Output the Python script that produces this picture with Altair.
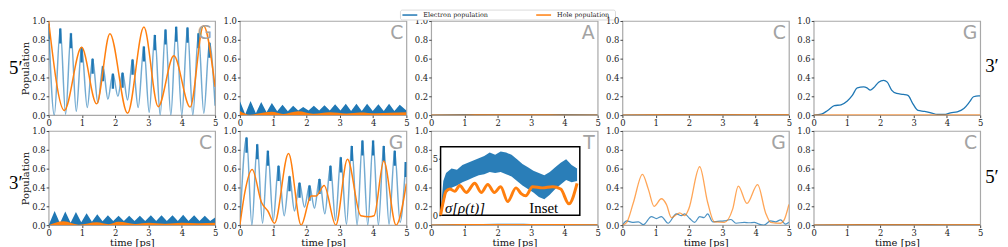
import altair as alt
import pandas as pd

E = "Electron population"
HL = "Hole population"
BLUE, ORANGE = "#1f77b4", "#ff7f0e"

legend_labels = [E, HL]
legend_colors = [BLUE, ORANGE]
letters_top = ["G", "C", "A", "C", "G"]
letters_bottom = ["C", "G", "T", "G", "C"]
left_labels = ["5′", "3′"]
right_labels = ["3′", "5′"]
x_ticks = [0, 1, 2, 3, 4, 5]
y_ticks = [0.0, 0.2, 0.4, 0.6, 0.8, 1.0]
inset_ticks = [0, 5]
inset_t_domain = [0, 5.1]
inset_y_domain = [0, 6]
inset_texts = ["σ[ρ(t)]", "Inset"]
inset_text_t = [0.16, 3.25]
inset_text_v = [0.2, 0.2]

# ---- panel 1 (5', G) ----
p1_blue_t = [0.0, 0.17, 0.35, 0.51, 0.67, 0.83, 0.99, 1.16, 1.32, 1.48, 1.63, 1.78, 1.93, 2.08, 2.22, 2.37,
             2.52, 2.69, 2.86, 3.02, 3.19, 3.35, 3.51, 3.67, 3.83, 4.0, 4.17, 4.33, 4.5, 4.66, 4.83, 5.0]
p1_blue_v = [0.97, 0.0, 0.92, 0.01, 0.87, 0.04, 0.72, 0.08, 0.60, 0.13, 0.52, 0.17, 0.44, 0.20, 0.45, 0.16,
             0.59, 0.08, 0.73, 0.03, 0.85, 0.0, 0.91, 0.0, 0.94, 0.0, 0.93, 0.0, 0.87, 0.02, 0.77, 0.10]
p1_hole_t = [0.0, 0.47, 0.99, 1.44, 1.84, 2.37, 2.86, 3.29, 3.76, 4.25, 4.65, 5.0]
p1_hole_v = [1.0, 0.05, 0.72, 0.12, 0.865, 0.02, 0.935, 0.09, 0.63, 0.085, 0.95, 0.30]

# ---- panel 2 (C) ----
p2_blue_t = [0.0, 0.16, 0.32, 0.48, 0.64, 0.8, 0.96, 1.12, 1.28, 1.44, 1.6, 1.75, 1.9, 2.06, 2.22, 2.38,
             2.54, 2.7, 2.86, 3.02, 3.18, 3.34, 3.5, 3.66, 3.82, 3.99, 4.16, 4.32, 4.48, 4.64, 4.8, 5.0]
p2_blue_v = [0.15, 0.01, 0.15, 0.02, 0.14, 0.03, 0.13, 0.04, 0.11, 0.04, 0.10, 0.05, 0.085, 0.05, 0.10, 0.05,
             0.105, 0.05, 0.115, 0.05, 0.12, 0.045, 0.12, 0.045, 0.12, 0.045, 0.115, 0.045, 0.12, 0.045, 0.11, 0.05]
p2_hole_t = [0.0, 0.3, 0.6, 0.95, 1.3, 1.75, 2.2, 2.7, 3.2, 3.6, 4.1, 4.5, 5.0]
p2_hole_v = [0.045, 0.005, 0.02, 0.035, 0.012, 0.04, 0.015, 0.03, 0.018, 0.028, 0.02, 0.025, 0.03]

# ---- panel 3 (A) ----
p3_blue_t = [0, 1, 2, 3, 4, 5]
p3_blue_v = [0.0, 0.004, 0.006, 0.005, 0.004, 0.003]
p3_hole_t = [0, 1, 2, 3, 4, 5]
p3_hole_v = [0.0, 0.001, 0.002, 0.002, 0.001, 0.001]

# ---- panel 4 (C) ----
p4_blue_t = [0, 1, 2, 3, 4, 5]
p4_blue_v = [0.0, 0.003, 0.006, 0.004, 0.003, 0.002]
p4_hole_t = [0, 1, 2, 3, 4, 5]
p4_hole_v = [0.0, 0.002, 0.002, 0.003, 0.003, 0.002]

# ---- panel 5 (G) ----
p5_blue_t = [0.0, 0.23, 0.42, 0.62, 0.82, 1.01, 1.16, 1.31, 1.5, 1.6, 1.7, 1.8, 1.95, 2.1, 2.21, 2.34,
             2.49, 2.69, 2.83, 2.98, 3.13, 3.33, 3.52, 3.72, 3.92, 4.11, 4.31, 4.51, 4.68, 4.8, 4.95, 5.0]
p5_blue_v = [0.0, 0.01, 0.05, 0.10, 0.11, 0.15, 0.21, 0.29, 0.30, 0.29, 0.265, 0.29, 0.35, 0.37, 0.35, 0.265,
             0.23, 0.22, 0.21, 0.12, 0.05, 0.04, 0.025, 0.007, 0.007, 0.025, 0.035, 0.07, 0.14, 0.195, 0.205, 0.205]
p5_hole_t = [0, 1, 2, 3, 4, 5]
p5_hole_v = [0.0, 0.001, 0.001, 0.001, 0.001, 0.001]

# ---- panel 6 (3', C) ----
p6_blue_t = [0.0, 0.18, 0.34, 0.5, 0.66, 0.82, 0.98, 1.14, 1.3, 1.46, 1.62, 1.78, 1.94, 2.1, 2.26, 2.42,
             2.58, 2.74, 2.9, 3.07, 3.23, 3.39, 3.55, 3.72, 3.88, 4.04, 4.2, 4.37, 4.53, 4.69, 4.85, 5.0]
p6_blue_v = [0.0, 0.15, 0.02, 0.145, 0.025, 0.14, 0.03, 0.125, 0.035, 0.115, 0.04, 0.105, 0.045, 0.10, 0.045, 0.10,
             0.045, 0.10, 0.045, 0.105, 0.045, 0.105, 0.045, 0.105, 0.045, 0.11, 0.045, 0.105, 0.045, 0.10, 0.045, 0.08]
p6_hole_t = [0.0, 0.45, 0.9, 1.45, 1.8, 2.1, 2.6, 3.0, 3.5, 4.0, 4.5, 5.0]
p6_hole_v = [0.0, 0.04, 0.005, 0.03, 0.01, 0.035, 0.012, 0.025, 0.015, 0.025, 0.02, 0.025]

# ---- panel 7 (G) ----
p7_blue_t = [0.0, 0.2, 0.36, 0.52, 0.68, 0.84, 1.0, 1.16, 1.33, 1.49, 1.64, 1.79, 1.94, 2.09, 2.24, 2.39,
             2.55, 2.72, 2.87, 3.03, 3.2, 3.36, 3.52, 3.68, 3.84, 4.0, 4.16, 4.32, 4.48, 4.65, 4.81, 4.98]
p7_blue_v = [0.0, 0.93, 0.0, 0.86, 0.02, 0.79, 0.05, 0.63, 0.10, 0.52, 0.15, 0.45, 0.19, 0.42, 0.18, 0.49,
             0.12, 0.63, 0.05, 0.72, 0.01, 0.84, 0.0, 0.90, 0.0, 0.90, 0.0, 0.84, 0.01, 0.79, 0.03, 0.67]
p7_hole_t = [0.0, 0.15, 0.37, 0.65, 0.84, 1.04, 1.46, 1.84, 2.14, 2.29, 2.53, 2.88, 3.23, 3.63, 3.88, 4.03,
             4.32, 4.69, 5.0]
p7_hole_v = [0.0, 0.35, 0.59, 0.24, 0.15, 0.02, 0.76, 0.0, 0.31, 0.31, 0.42, 0.0, 0.70, 0.10, 0.09, 0.10,
             0.68, 0.0, 0.44]

# ---- panel 8 (T) ----
p8_blue_t = [0, 1, 2, 3, 4, 5]
p8_blue_v = [0.0, 0.004, 0.008, 0.006, 0.003, 0.002]
p8_hole_t = [0, 1, 2, 3, 4, 5]
p8_hole_v = [0.0, 0.004, 0.005, 0.005, 0.004, 0.003]
inset_t = [0.0, 0.1, 0.2, 0.4, 0.6, 0.8, 1.0, 1.2, 1.4, 1.6, 1.8, 2.0, 2.2, 2.4, 2.6, 2.8, 3.0,
           3.2, 3.4, 3.6, 3.8, 4.0, 4.2, 4.4, 4.6, 4.8, 5.0]
inset_blue_hi = [0.2, 3.0, 3.7, 4.1, 4.0, 4.4, 4.6, 4.8, 5.0, 5.2, 5.5, 5.3, 5.6, 5.5, 5.3, 4.9, 4.5,
                 4.2, 3.9, 3.7, 3.5, 3.8, 4.2, 4.6, 4.9, 4.4, 4.1]
inset_blue_lo = [0.0, 0.8, 1.9, 2.4, 2.6, 2.9, 3.1, 3.3, 3.5, 3.6, 3.8, 3.7, 3.8, 3.6, 3.4, 3.0, 2.6,
                 2.3, 2.0, 1.6, 1.4, 1.8, 2.3, 2.7, 3.1, 2.9, 3.0]
inset_hole_t = [0.0, 0.1, 0.2, 0.34, 0.52, 0.7, 0.94, 1.25, 1.49, 1.73, 1.97, 2.2, 2.46, 2.76, 2.95,
                3.12, 3.37, 3.73, 4.1, 4.4, 4.7, 5.0]
inset_hole_v = [0.0, 1.2, 2.1, 2.3, 2.1, 2.6, 2.0, 2.8, 2.0, 2.7, 2.0, 2.5, 1.2, 2.4, 1.9,
                1.7, 2.5, 2.4, 2.5, 2.3, 1.0, 2.8]

# ---- panel 9 (G) ----
p9_blue_t = [0.0, 0.13, 0.3, 0.48, 0.63, 0.87, 1.02, 1.17, 1.37, 1.62, 1.77, 1.87, 2.02, 2.17, 2.32, 2.45,
             2.56, 2.71, 2.86, 3.06, 3.26, 3.41, 3.66, 3.81, 3.96, 4.1, 4.25, 4.45, 4.6, 4.75, 4.9, 5.0]
p9_blue_v = [0.0, 0.045, 0.03, 0.035, 0.005, 0.09, 0.07, 0.09, 0.02, 0.12, 0.10, 0.12, 0.07, 0.03, 0.09, 0.08,
             0.12, 0.035, 0.04, 0.045, 0.06, 0.02, 0.03, 0.025, 0.03, 0.01, 0.0, 0.045, 0.035, 0.055, 0.01, 0.03]
p9_hole_t = [0.0, 0.13, 0.33, 0.6, 0.78, 0.95, 1.17, 1.32, 1.47, 1.72, 1.87, 1.99, 2.32, 2.56, 2.76, 3.06,
             3.31, 3.48, 3.74, 4.06, 4.3, 4.45, 4.75, 4.85, 5.0]
p9_hole_v = [0.0, 0.03, 0.24, 0.54, 0.38, 0.20, 0.28, 0.22, 0.08, 0.13, 0.10, 0.17, 0.62, 0.24, 0.035, 0.03,
             0.17, 0.415, 0.23, 0.43, 0.13, 0.03, 0.02, 0.05, 0.22]

# ---- panel 10 (C) ----
p10_blue_t = [0, 1, 2, 3, 4, 5]
p10_blue_v = [0.0, 0.003, 0.006, 0.005, 0.003, 0.002]
p10_hole_t = [0, 1, 2, 3, 4, 5]
p10_hole_v = [0.0, 0.002, 0.003, 0.003, 0.002, 0.002]

W, HT = 168, 95
SERIF = "DejaVu Serif"


def frame(t, v):
    return pd.DataFrame({"t": t, "v": v})


def xe(row, show=True):
    ax = alt.Axis(values=x_ticks, format="d", labelFlush=False,
                  title="time [ps]" if row == 1 else None) if show else None
    return alt.X("t:Q", scale=alt.Scale(domain=[0, 5], nice=False, zero=False), axis=ax)


def ye(col, show=True):
    ax = alt.Axis(values=y_ticks, format=".1f",
                  title="Population" if col == 0 else None) if show else None
    return alt.Y("v:Q", scale=alt.Scale(domain=[0, 1], nice=False, zero=False), axis=ax)


def letter(lbl):
    return alt.Chart(pd.DataFrame({"label": [lbl]})).mark_text(
        font="DejaVu Sans", fontSize=19, color="#a3a3a3", align="right", baseline="top"
    ).encode(x=alt.value(W - 3), y=alt.value(3), text="label:N")


def side(lbl, x, y):
    return alt.Chart(pd.DataFrame({"label": [lbl]})).mark_text(
        font="Liberation Serif", fontSize=19, color="black", align="left", baseline="middle"
    ).encode(x=alt.value(x), y=alt.value(y), text="label:N")


def line(t, v, color, row, col, width=1.3, opacity=1.0, show=True):
    return alt.Chart(frame(t, v)).mark_line(color=color, strokeWidth=width, opacity=opacity,
                                            interpolate="monotone", clip=True).encode(
        x=xe(row, show), y=ye(col, show))


def fast_panel(bt, bv, ht, hv, row, col):
    peaks = [(bt[i], bv[i], bv[i] - 0.16) for i in range(len(bv))
             if (i == 0 or bv[i] > bv[i - 1]) and (i == len(bv) - 1 or bv[i] > bv[i + 1])]
    pk = pd.DataFrame(peaks, columns=["t", "v", "v2"])
    blue = line(bt, bv, BLUE, row, col, width=1.5, opacity=0.62)
    streak = alt.Chart(pk).mark_rule(color=BLUE, strokeWidth=2.4, clip=True).encode(
        x=xe(row), y=ye(col), y2="v2:Q")
    hole = line(ht, hv, ORANGE, row, col, width=1.5)
    return [blue, streak, hole]


def band_panel(bt, bv, ht, hv, row, col):
    blue = alt.Chart(frame(bt, bv)).mark_area(color=BLUE, interpolate="linear", clip=True).encode(
        x=xe(row), y=ye(col))
    hole = alt.Chart(frame(ht, hv)).mark_area(color=ORANGE, interpolate="monotone", clip=True).encode(
        x=xe(row), y=ye(col))
    return [blue, hole]


def flat_panel(bt, bv, ht, hv, row, col):
    return [line(bt, bv, BLUE, row, col), line(ht, hv, ORANGE, row, col)]


def legend_layers():
    # drawn above panel 3, in pixels relative to that panel
    box = alt.Chart(pd.DataFrame({"k": [0]})).mark_rect(
        fill="white", stroke="#d0d0d0", strokeWidth=0.8, cornerRadius=2).encode(
        x=alt.value(-31), x2=alt.value(186), y=alt.value(-11), y2=alt.value(-1))
    out = [box]
    xs = [-29, 106]
    for lbl, c, x0 in zip(legend_labels, legend_colors, xs):
        out.append(alt.Chart(pd.DataFrame({"label": [lbl]})).mark_rule(color=c, strokeWidth=1.5).encode(
            x=alt.value(x0), x2=alt.value(x0 + 15), y=alt.value(-6)))
        out.append(alt.Chart(pd.DataFrame({"label": [lbl]})).mark_text(
            font=SERIF, fontSize=6.5, color="#222", align="left", baseline="middle").encode(
            x=alt.value(x0 + 21), y=alt.value(-6), text="label:N"))
    return out


panels = []
# row 1
panels.append(alt.layer(*fast_panel(p1_blue_t, p1_blue_v, p1_hole_t, p1_hole_v, 0, 0),
                        letter(letters_top[0]), side(left_labels[0], -40, 47)).properties(width=W, height=HT))
panels.append(alt.layer(*band_panel(p2_blue_t, p2_blue_v, p2_hole_t, p2_hole_v, 0, 1),
                        letter(letters_top[1])).properties(width=W, height=HT))
panels.append(alt.layer(*flat_panel(p3_blue_t, p3_blue_v, p3_hole_t, p3_hole_v, 0, 2),
                        letter(letters_top[2]), *legend_layers()).properties(width=W, height=HT))
panels.append(alt.layer(*flat_panel(p4_blue_t, p4_blue_v, p4_hole_t, p4_hole_v, 0, 3),
                        letter(letters_top[3])).properties(width=W, height=HT))
panels.append(alt.layer(*flat_panel(p5_blue_t, p5_blue_v, p5_hole_t, p5_hole_v, 0, 4),
                        letter(letters_top[4]), side(right_labels[0], 173, 45)).properties(width=W, height=HT))
# row 2
panels.append(alt.layer(*band_panel(p6_blue_t, p6_blue_v, p6_hole_t, p6_hole_v, 1, 0),
                        letter(letters_bottom[0]), side(left_labels[1], -40, 53)).properties(width=W, height=HT))
panels.append(alt.layer(*fast_panel(p7_blue_t, p7_blue_v, p7_hole_t, p7_hole_v, 1, 1),
                        letter(letters_bottom[1])).properties(width=W, height=HT))

# panel 8 with inset
ixs = alt.Scale(domain=inset_t_domain, range=[9.5, 150], nice=False, zero=False)
iys = alt.Scale(domain=inset_y_domain, range=[85, 16], nice=False, zero=False)
box = alt.Chart(pd.DataFrame({"x0": [inset_t_domain[0]], "x1": [inset_t_domain[1]],
                              "y0": [inset_y_domain[0]], "y1": [inset_y_domain[1]]})).mark_rect(
    fill="white", stroke="black", strokeWidth=1.5).encode(
    x=alt.X("x0:Q", scale=ixs, axis=None), x2="x1:Q",
    y=alt.Y("y0:Q", scale=iys, axis=alt.Axis(orient="left", offset=-9.5, values=inset_ticks, format="d",
                                              title=None, tickSize=2, labelPadding=1)),
    y2="y1:Q")
iband = alt.Chart(pd.DataFrame({"t": inset_t, "lo": inset_blue_lo, "hi": inset_blue_hi})).mark_area(
    color=BLUE, interpolate="linear", opacity=0.95).encode(
    x=alt.X("t:Q", scale=ixs, axis=None), y=alt.Y("lo:Q", scale=iys, axis=None), y2="hi:Q")
ihole = alt.Chart(frame(inset_hole_t, inset_hole_v)).mark_line(
    color=ORANGE, strokeWidth=3, interpolate="monotone").encode(
    x=alt.X("t:Q", scale=ixs, axis=None), y=alt.Y("v:Q", scale=iys, axis=None))
itexts = []
for lbl, tt, vv, style in zip(inset_texts, inset_text_t, inset_text_v, ["italic", "normal"]):
    itexts.append(alt.Chart(pd.DataFrame({"t": [tt], "v": [vv], "label": [lbl]})).mark_text(
        font="Liberation Serif", fontSize=15, fontStyle=style, align="left", baseline="alphabetic",
        color="black").encode(
        x=alt.X("t:Q", scale=ixs, axis=None), y=alt.Y("v:Q", scale=iys, axis=None), text="label:N"))
p8 = alt.layer(
    line(p8_blue_t, p8_blue_v, BLUE, 1, 2),
    line(p8_hole_t, p8_hole_v, ORANGE, 1, 2, show=False),
    letter(letters_bottom[2]), box, iband, ihole, *itexts
).resolve_scale(x="independent", y="independent").properties(width=W, height=HT)
panels.append(p8)

panels.append(alt.layer(line(p9_blue_t, p9_blue_v, BLUE, 1, 3, width=1.2, opacity=0.8),
                        line(p9_hole_t, p9_hole_v, ORANGE, 1, 3, width=1.3, opacity=0.7),
                        letter(letters_bottom[3])).properties(width=W, height=HT))
panels.append(alt.layer(*flat_panel(p10_blue_t, p10_blue_v, p10_hole_t, p10_hole_v, 1, 4),
                        letter(letters_bottom[4]), side(right_labels[1], 173, 46)).properties(width=W, height=HT))

chart = alt.ConcatChart(
    concat=panels, columns=5, spacing={"row": 16, "column": 25}, bounds="flush", padding=0
).configure_view(
    stroke="#a8a8a8", strokeWidth=1.2
).configure_axis(
    labelFont=SERIF, labelFontSize=8.5, labelColor="#222", titleFont=SERIF, titleFontSize=10,
    titleFontWeight="normal", titleColor="#111", tickSize=2.5, tickColor="#444", labelPadding=1,
    titlePadding=1, domain=False, grid=False
)

chart.save("out.html", embed_options={"renderer": "svg", "actions": False})
